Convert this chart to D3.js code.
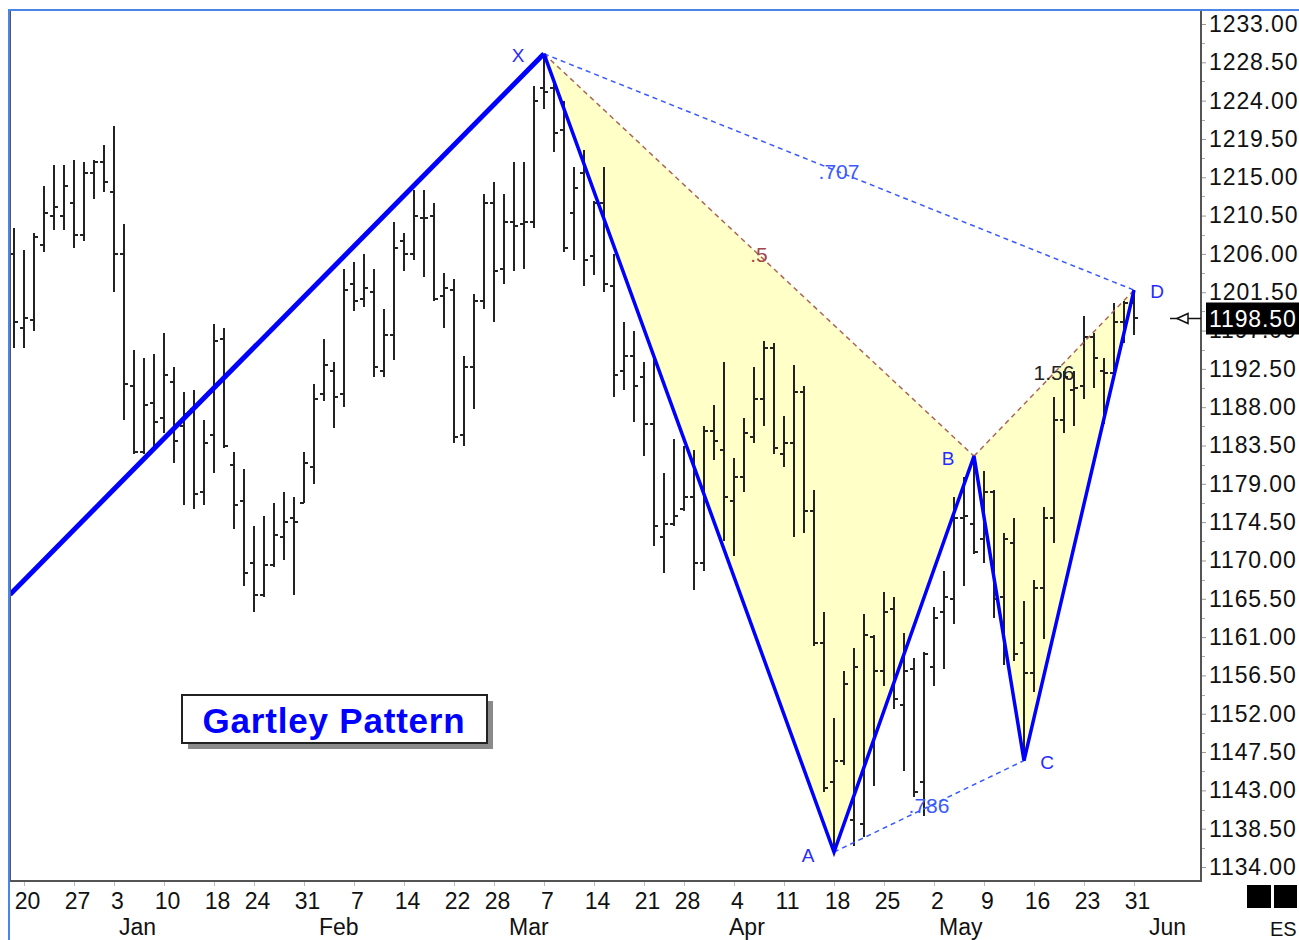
<!DOCTYPE html>
<html>
<head>
<meta charset="utf-8">
<script src="https://cdn.jsdelivr.net/npm/d3@7"></script>
<style>
  html, body { margin: 0; padding: 0; background: #fff; }
  svg { display: block; font-family: "Liberation Sans", Arial, sans-serif; }
</style>
</head>
<body>
<script>
// ES daily bars, Dec 17 .. May 31 (bar index 0..112)
const opens = [1206,1197.25,1198.25,1207,1210.5,1210.5,1212,1208.25,1215.5,1216.75,
  1213.25,1206,1190.5,1182.75,1188.5,1186.75,1191,1185.75,1187.75,1178,
  1184.75,1196,1181.25,1177,1169.75,1166,1169.5,1172.75,1175,1176.75,
  1181,1189.5,1192.25,1189.5,1202.5,1200.75,1201.5,1192.25,1196.5,1207.5,
  1206,1210.25,1210.5,1201,1201.75,1184.75,1192.75,1200.5,1212,1204.25,
  1209.75,1209.5,1209.75,1225.5,1225.5,1220.5,1210.75,1215.5,1205.75,1212,
  1202.25,1192.25,1194,1191.5,1186,1172.75,1174.25,1176,1177.5,1169.75,
  1185.25,1183,1177,1179.75,1184.5,1189,1195,1182.5,1183.75,1189.75,
  1175.75,1160.25,1144,1146.5,1139.5,1139,1161,1157,1164.25,1153,
  1157.25,1144,1157.5,1164,1165.5,1175,1174.25,1172.5,1178,1165.75,
  1172,1160.25,1156.75,1166.75,1175,1186.5,1190,1190.5,1196.25,1192.25,
  1192,1198,1200.25];
const highs = [1209,1206.5,1208.5,1214,1216.5,1216.5,1217,1216.75,1217,1218.75,
  1221,1209.5,1194.75,1193.75,1194.25,1196.75,1192.75,1189.75,1190,1186.5,
  1197.75,1197.25,1182.75,1180.75,1174,1175.25,1176.75,1178,1177.5,1182.75,
  1190.75,1196,1193.25,1204.25,1205,1206,1204.25,1199.5,1209.75,1208.5,
  1213.5,1213.5,1212,1203.75,1203,1194,1201.25,1213,1214.5,1213,
  1216.75,1216.75,1225.75,1229.5,1226,1224,1216.25,1218.25,1212.25,1216.25,
  1206,1198,1197,1193.25,1193.75,1180.25,1184.25,1183.5,1183,1185.75,
  1188.25,1193.25,1182,1186.75,1192.75,1195.75,1195.5,1187,1193,1190.5,
  1178.25,1164,1151.5,1157,1159.75,1163.75,1161.25,1166.25,1165.75,1161.5,
  1158.5,1159.25,1164.5,1168.75,1177.5,1179.75,1182.25,1180.5,1178.25,1173.25,
  1175,1165.25,1167.75,1176.25,1189.25,1192.25,1192.25,1198.75,1196.75,1193.75,
  1200.25,1200.5,1201.75];
const lows = [1195,1195,1197,1206.25,1208.75,1208.75,1206.75,1207.5,1212.5,1213.25,
  1201.5,1186.5,1182.5,1182.5,1183.25,1185,1181.5,1176.5,1176,1176.5,
  1180.25,1183.25,1173.75,1167,1164,1165.75,1169.25,1170,1166,1176.75,
  1179,1188.75,1185.5,1188,1199.25,1199.75,1191.5,1191.5,1193.5,1204,
  1205.25,1203.25,1200.5,1197.25,1183.75,1183.5,1187.75,1199.5,1198,1202.5,
  1204,1204.25,1209,1223,1218,1206.25,1205.25,1202.25,1203.5,1201.5,
  1189.25,1190,1186.25,1182.25,1171.75,1168.5,1174,1175.75,1166.5,1168.75,
  1181.75,1172.25,1170.5,1178,1183.75,1185.75,1182.5,1181,1172.75,1173.25,
  1160,1142.75,1135.75,1146,1136.5,1137.5,1143.5,1155.25,1152.5,1145.25,
  1142.25,1140,1155.25,1157.25,1162.5,1167,1170.75,1169.75,1163.25,1157.75,
  1158.25,1146.5,1154.5,1160.75,1172,1185,1185.75,1189,1190.25,1186,
  1192,1195.5,1196.5];
const closes = [1198,1198.5,1208,1210.75,1211.5,1214,1208.25,1215.5,1216.75,1214.5,
  1206,1190.75,1182.75,1188.25,1186.25,1191.75,1184,1187.25,1177.75,1183.75,
  1195.75,1183.5,1176.5,1168.5,1166,1169.5,1173,1174.5,1174.5,1181.5,
  1189,1193,1189.25,1201.75,1200.5,1202,1192.75,1196.5,1206.75,1206,
  1210.5,1210.25,1200.75,1202,1184.5,1192.75,1200.5,1212,1204,1209.75,
  1209.25,1209.75,1224,1225,1220.25,1206.75,1213.75,1205.25,1212,1202.5,
  1191.75,1194,1190.5,1186,1174,1174.25,1175.25,1177.5,1169.75,1185.25,
  1184,1177.5,1179.75,1185,1189,1195,1183.25,1183.75,1189.75,1175.75,
  1160.25,1143.25,1146.5,1155.5,1157.5,1161.25,1157,1164,1153.75,1157,
  1142.75,1159,1163.25,1165.75,1175,1175.25,1171,1178,1165.5,1172.5,
  1159,1156.75,1166.75,1175,1186.5,1191.5,1190.25,1196.25,1193.75,1192,
  1198,1200.25,1198.5];

// x axis: weekly day labels and month labels (by bar index)
const dayTickIdx = [1,6,10,15,20,24,29,34,39,44,48,53,58,63,67,72,77,82,87,92,97,102,107,112];
const dayTickLabels = ["20","27","3","10","18","24","31","7","14","22","28","7","14","21","28","4","11","18","25","2","9","16","23","31"];
const monthIdx = [10,30,49,71,92,113];
const monthLabels = ["Jan","Feb","Mar","Apr","May","Jun"];

// y axis labels
const priceTicks = [1134,1138.5,1143,1147.5,1152,1156.5,1161,1165.5,1170,1174.5,1179,1183.5,
  1188,1192.5,1197,1201.5,1206,1210.5,1215,1219.5,1224,1228.5,1233];
const lastPrice = 1198.5;

// Gartley pattern pivots
const pivotNames = ["X","A","B","C","D"];
const pivotIdx = [53,82,96,101,112];
const pivotPrice = [1229.5,1135.75,1182.25,1146.5,1201.75];
const leadIn = {i: -0.4, p: 1166};
const ratioLabels = [".5",".707","1.56",".786"];

const W = 1299, H = 940;
const plotL = 10, plotR = 1201, plotT = 10, plotB = 881;

const x = d3.scaleLinear().domain([-0.4, 118.6]).range([plotL, 1200]);
const y = d3.scaleLinear().domain([1134, 1233]).range([867, 24]);

const svg = d3.select("body").append("svg")
  .attr("width", W).attr("height", H);

svg.append("defs").append("clipPath").attr("id", "plot")
  .append("rect").attr("x", plotL).attr("y", plotT)
  .attr("width", plotR - plotL).attr("height", plotB - plotT);

const plot = svg.append("g").attr("clip-path", "url(#plot)");

const P = pivotIdx.map((d, k) => [x(d), y(pivotPrice[k])]);

// yellow triangles XAB and BCD
plot.selectAll("path.tri")
  .data([[P[0], P[1], P[2]], [P[2], P[3], P[4]]])
  .enter().append("path")
  .attr("class", "tri")
  .attr("d", d => "M" + d.join("L") + "Z")
  .attr("fill", "#ffffc8");

// OHLC bars
const bars = plot.append("g")
  .attr("stroke", "#222")
  .attr("stroke-width", 2)
  .attr("shape-rendering", "crispEdges");

const bar = bars.selectAll("g").data(highs).enter().append("g");
bar.append("line")
  .attr("x1", (d, i) => Math.round(x(i))).attr("x2", (d, i) => Math.round(x(i)))
  .attr("y1", d => y(d)).attr("y2", (d, i) => y(lows[i]));
bar.append("line")
  .attr("x1", (d, i) => Math.round(x(i)) - 4).attr("x2", (d, i) => Math.round(x(i)))
  .attr("y1", (d, i) => Math.round(y(opens[i]))).attr("y2", (d, i) => Math.round(y(opens[i])));
bar.append("line")
  .attr("x1", (d, i) => Math.round(x(i))).attr("x2", (d, i) => Math.round(x(i)) + 4)
  .attr("y1", (d, i) => Math.round(y(closes[i]))).attr("y2", (d, i) => Math.round(y(closes[i])));

// dashed ratio lines
const ratioLines = [
  {a: 0, b: 2, color: "#a8665c", text: "#a04848"},
  {a: 0, b: 4, color: "#3a5aff", text: "#3a5aff"},
  {a: 2, b: 4, color: "#a8665c", text: "#222"},
  {a: 1, b: 3, color: "#3a5aff", text: "#3a5aff"}
];
plot.selectAll("line.ratio").data(ratioLines).enter().append("line")
  .attr("class", "ratio")
  .attr("x1", d => P[d.a][0]).attr("y1", d => P[d.a][1])
  .attr("x2", d => P[d.b][0]).attr("y2", d => P[d.b][1])
  .attr("stroke", d => d.color)
  .attr("stroke-width", 1.5)
  .attr("stroke-dasharray", "5,4");

// lead-in leg and pattern legs
plot.append("line")
  .attr("x1", x(leadIn.i)).attr("y1", y(leadIn.p))
  .attr("x2", P[0][0]).attr("y2", P[0][1])
  .attr("stroke", "#0000ff").attr("stroke-width", 5);

plot.append("path")
  .attr("d", d3.line()(P))
  .attr("fill", "none")
  .attr("stroke", "#0000ff")
  .attr("stroke-width", 3.5)
  .attr("stroke-linejoin", "miter");

plot.selectAll("text.ratio").data(ratioLines).enter().append("text")
  .attr("class", "ratio")
  .attr("x", d => (P[d.a][0] + P[d.b][0]) / 2)
  .attr("y", d => (P[d.a][1] + P[d.b][1]) / 2 + 7)
  .attr("text-anchor", "middle")
  .attr("font-size", 21)
  .attr("fill", d => d.text)
  .text((d, k) => ratioLabels[k]);

const pivotOffset = [[-26, 8], [-26, 10], [-26, 9], [23, 8], [23, 8]];
plot.selectAll("text.pivot").data(pivotNames).enter().append("text")
  .attr("class", "pivot")
  .attr("x", (d, k) => P[k][0] + pivotOffset[k][0])
  .attr("y", (d, k) => P[k][1] + pivotOffset[k][1])
  .attr("text-anchor", "middle")
  .attr("font-size", 19)
  .attr("fill", "#2a2aff")
  .text(d => d);

// title box
svg.append("rect").attr("x", 188).attr("y", 701).attr("width", 305).attr("height", 48)
  .attr("fill", "#8a8a8a");
svg.append("rect").attr("x", 182).attr("y", 695).attr("width", 305).attr("height", 48)
  .attr("fill", "#fff").attr("stroke", "#222").attr("stroke-width", 2);
svg.append("text").attr("x", 334).attr("y", 733)
  .attr("text-anchor", "middle")
  .attr("font-size", 35).attr("font-weight", "bold")
  .attr("letter-spacing", 0.8)
  .attr("fill", "#0000ff")
  .text("Gartley Pattern");

// axes
const yAxis = svg.append("g")
  .attr("transform", `translate(${plotR},0)`)
  .call(d3.axisRight(y).tickValues(priceTicks).tickSize(5).tickPadding(3)
    .tickFormat(d3.format(".2f")));
yAxis.select(".domain").remove();
yAxis.selectAll(".tick line").attr("stroke", "#999");
yAxis.selectAll(".tick text")
  .attr("font-size", 23).attr("letter-spacing", 0.9)
  .attr("font-family", "Liberation Sans, Arial, sans-serif")
  .attr("fill", "#111");

svg.append("g").attr("stroke", "#aaa")
  .selectAll("line").data(d3.pairs(priceTicks)).enter().append("line")
  .attr("x1", plotR).attr("x2", plotR + 4)
  .attr("y1", d => Math.round(y((d[0] + d[1]) / 2)) + 0.5)
  .attr("y2", d => Math.round(y((d[0] + d[1]) / 2)) + 0.5);

const xAxis = svg.append("g")
  .attr("transform", `translate(0,${plotB})`)
  .call(d3.axisBottom(x).tickValues(dayTickIdx).tickSize(5)
    .tickFormat((d, k) => dayTickLabels[k]));
xAxis.select(".domain").remove();
xAxis.selectAll(".tick line").attr("stroke", "#bbb");
xAxis.selectAll(".tick text")
  .attr("x", 3)
  .attr("y", 28).attr("dy", null)
  .attr("font-size", 23)
  .attr("font-family", "Liberation Sans, Arial, sans-serif")
  .attr("fill", "#111");

svg.selectAll("text.month").data(monthLabels).enter().append("text")
  .attr("class", "month")
  .attr("x", (d, k) => x(monthIdx[k]) + 5)
  .attr("y", 935)
  .attr("font-size", 23)
  .attr("fill", "#111")
  .text(d => d);

// frame lines
svg.append("path")
  .attr("d", `M${plotL},${plotT}V${plotB}H${plotR}V${plotT}`)
  .attr("fill", "none").attr("stroke", "#555").attr("stroke-width", 2);
svg.append("path")
  .attr("d", `M9,${H}V${plotT}H${W}`)
  .attr("fill", "none").attr("stroke", "#4a86e8").attr("stroke-width", 2);

// last price marker
const yl = Math.round(y(lastPrice)) + 0.5;
svg.append("line").attr("x1", 1170).attr("x2", plotR).attr("y1", yl).attr("y2", yl)
  .attr("stroke", "#111").attr("stroke-width", 1.5);
svg.append("path")
  .attr("d", `M1177,${yl}L1188,${yl - 5}L1188,${yl + 5}Z`)
  .attr("fill", "#fff").attr("stroke", "#111").attr("stroke-width", 1.5);
svg.append("rect").attr("x", 1206).attr("y", yl - 16).attr("width", 93).attr("height", 32)
  .attr("fill", "#000");
svg.append("text").attr("x", 1209).attr("y", yl + 8)
  .attr("font-size", 23).attr("letter-spacing", 0.9)
  .attr("fill", "#fff")
  .text(d3.format(".2f")(lastPrice));

// symbol marker bottom right
svg.append("rect").attr("x", 1247).attr("y", 885).attr("width", 24).attr("height", 23).attr("fill", "#000");
svg.append("rect").attr("x", 1274).attr("y", 885).attr("width", 23).attr("height", 23).attr("fill", "#000");
svg.append("text").attr("x", 1270).attr("y", 936).attr("font-size", 20).attr("fill", "#111").text("ES");
</script>
</body>
</html>
